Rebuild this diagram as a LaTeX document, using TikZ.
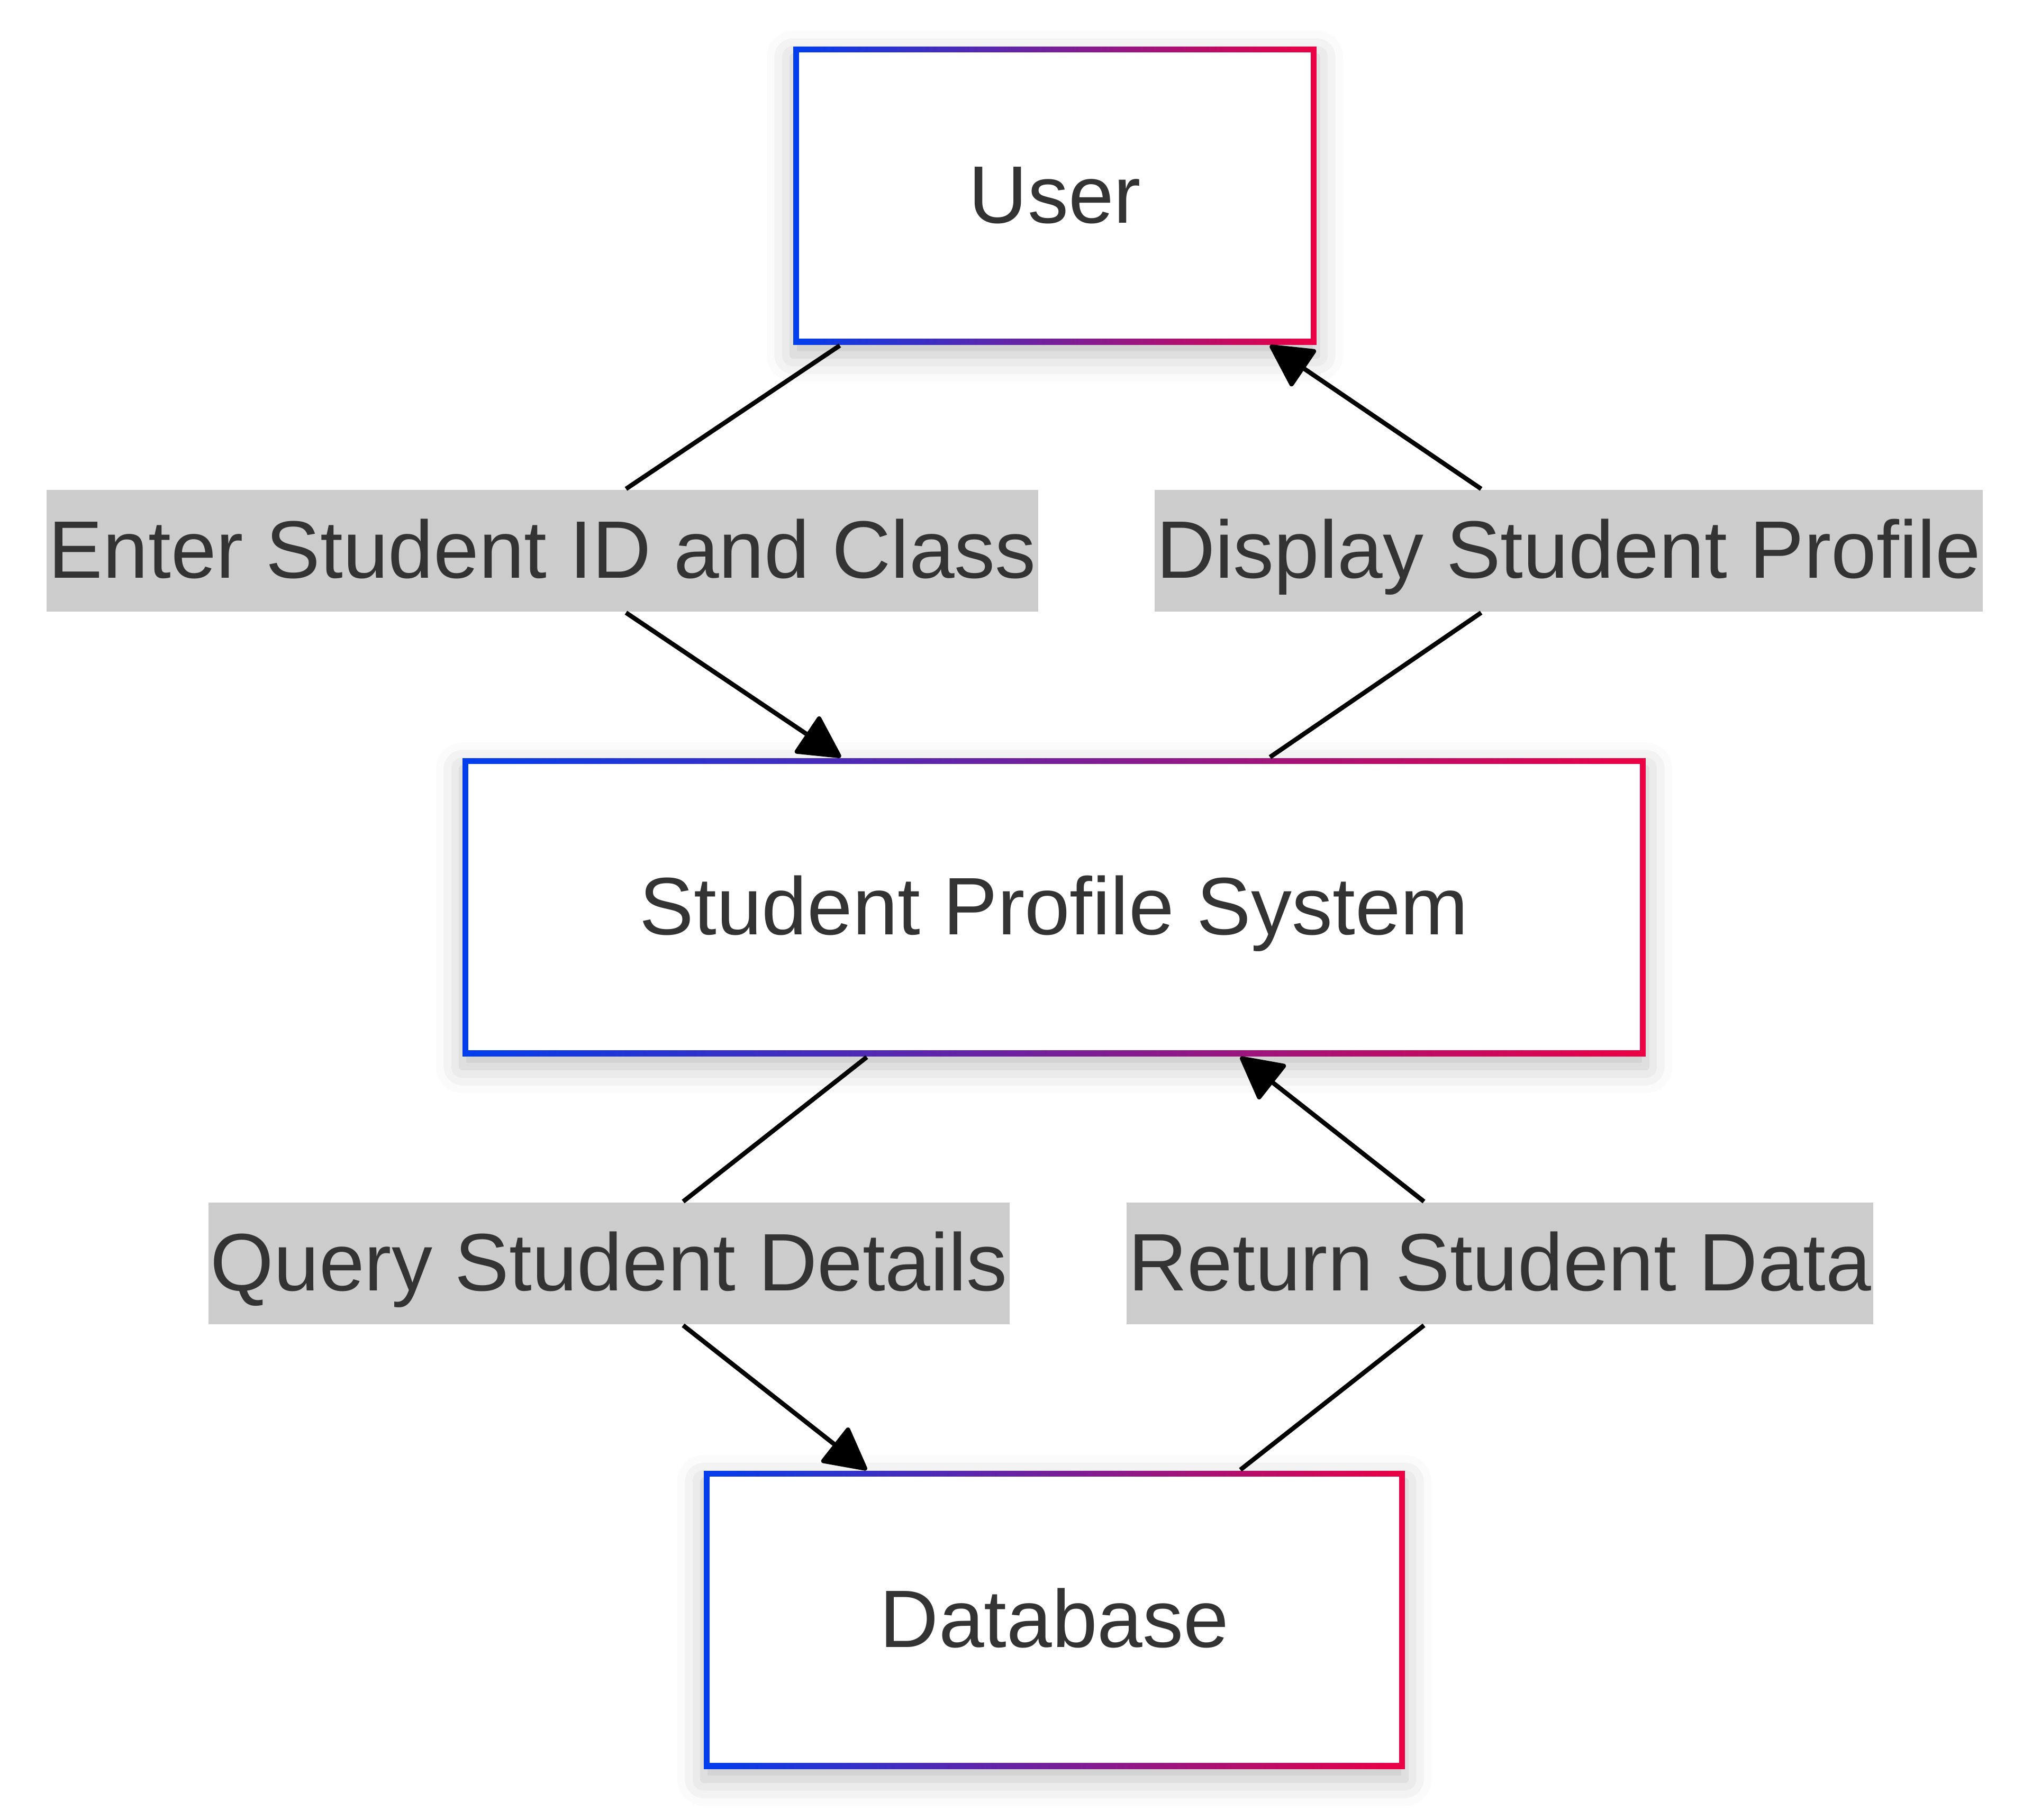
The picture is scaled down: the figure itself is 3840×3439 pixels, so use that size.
\documentclass[tikz,border=0pt]{standalone}
\usepackage{fontspec}
\setmainfont{Liberation Sans}
\usetikzlibrary{arrows.meta,shadows.blur}
\definecolor{txtgray}{HTML}{333333}
\definecolor{lblgray}{HTML}{CCCCCC}
\definecolor{bordblue}{RGB}{0,62,238}
\definecolor{bordred}{RGB}{236,0,68}
\tikzset{
    procbox/.style={minimum height=56.3pt, inner sep=0pt, text=txtgray,
        text height=10.4pt, text depth=0pt,
        left color=bordblue, right color=bordred,
        blur shadow={shadow xshift=0pt, shadow yshift=-2pt, shadow blur radius=5pt, shadow opacity=25},
        path picture={\fill[white] ([shift={(1.1pt,1.1pt)}]path picture bounding box.south west)
            rectangle ([shift={(-1.1pt,-1.1pt)}]path picture bounding box.north east);}},
    flowlbl/.style={fill=lblgray, text=txtgray, inner sep=0pt, inner xsep=0.4pt, minimum height=23pt,
        text height=10.2pt, text depth=0pt},
    flow/.style={line width=0.85pt, -{Triangle[length=8.4pt,width=8.7pt,round]}}
}
\begin{document}
\begin{tikzpicture}[x=0.1pt, y=-0.1pt, font=\fontsize{15.4pt}{18pt}\selectfont]
        \useasboundingbox (0, 0) rectangle (3840, 3439);

        \node[procbox, minimum width=98.9pt] (user) at (1993.5, 369.5) {User};
        \node[procbox, minimum width=223.6pt] (sps) at (1992, 1714.5) {Student Profile System};
        \node[procbox, minimum width=132.5pt] (db) at (1992.5, 3061.5) {Database};

        \node[flowlbl] (enter) at (1025, 1041) {Enter Student ID and Class};
        \node[flowlbl] (disp) at (2964.5, 1041) {Display Student Profile};
        \node[flowlbl] (query) at (1151, 2388) {Query Student Details};
        \node[flowlbl] (ret) at (2834.5, 2388) {Return Student Data};

        \draw[flow] ([xshift=-40.65pt]user.south) -- ([xshift=15.8pt]enter.north)
            ([xshift=15.8pt]enter.south) -- ([xshift=-40.3pt]sps.north);
        \draw[flow] ([xshift=40.8pt]sps.north) -- ([xshift=-16.55pt]disp.south)
            ([xshift=-16.55pt]disp.north) -- ([xshift=40.65pt]user.south);
        \draw[flow] ([xshift=-35.4pt]sps.south) -- ([xshift=14pt]query.north)
            ([xshift=14pt]query.south) -- ([xshift=-35.45pt]db.north);
        \draw[flow] ([xshift=35.15pt]db.north) -- ([xshift=-14.35pt]ret.south)
            ([xshift=-14.35pt]ret.north) -- ([xshift=35.2pt]sps.south);
\end{tikzpicture}
\end{document}
